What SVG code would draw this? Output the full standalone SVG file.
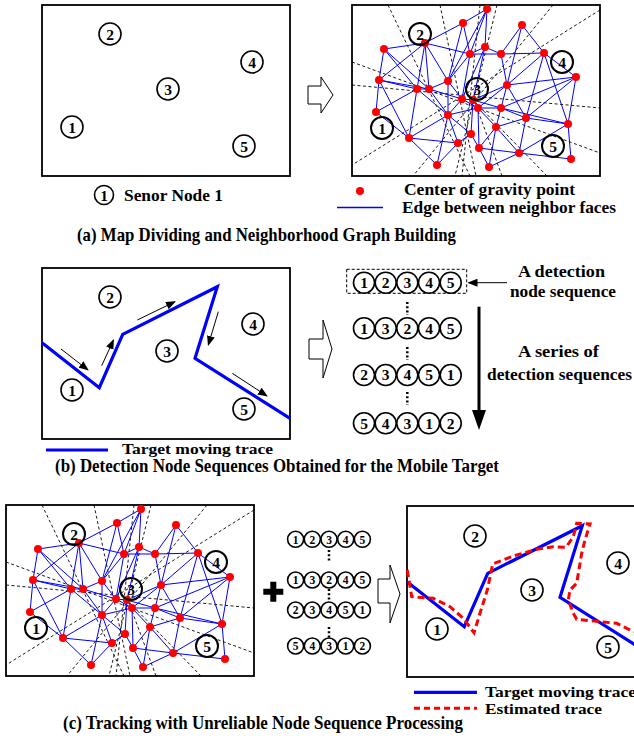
<svg xmlns="http://www.w3.org/2000/svg" xmlns:xlink="http://www.w3.org/1999/xlink" width="634" height="748" viewBox="0 0 634 748">
<style>
.box{fill:#fff;stroke:#000;stroke-width:1.8}
.t{font-family:"Liberation Serif","Times New Roman",serif;font-weight:bold;fill:#000}
.cap{font-size:19px}
.lg{font-size:17px}
.lgs{font-size:15px}
.num{font-size:15.5px;text-anchor:middle}
.nums{font-size:11.5px;text-anchor:middle}
.ring{fill:none;stroke:#000;stroke-width:1.6}
.ringg{fill:none;stroke:#000;stroke-width:2}
.dash{stroke:#000;stroke-width:0.9;stroke-dasharray:3,2.5;fill:none}
.edge{stroke:#0000ff;stroke-width:1;fill:none}
.dot{fill:#ff0000}
.trace{stroke:#0000ff;stroke-width:3.2;fill:none;stroke-linejoin:miter}
.est{stroke:#ff0000;stroke-width:3;fill:none;stroke-dasharray:7,4}
.hollow{fill:#fff;stroke:#000;stroke-width:1}
.arr{stroke:#000;stroke-width:1;fill:none}
.vd{stroke:#000;stroke-width:2.5;stroke-dasharray:2,2.2}
</style>
<defs>
<marker id="ah" markerWidth="10" markerHeight="8" refX="9" refY="4" orient="auto" markerUnits="userSpaceOnUse">
<path d="M0,0 L10,4 L0,8 Z" fill="#000"/>
</marker>
<marker id="ahBig" markerWidth="20" markerHeight="14" refX="2" refY="7" orient="auto" markerUnits="userSpaceOnUse">
<path d="M0,0 L20,7 L0,14 Z" fill="#000"/>
</marker>
<clipPath id="clipG"><rect x="352" y="5" width="248" height="171"/></clipPath>
<g id="graph">
<rect class="box" x="352" y="5" width="248" height="171"/>
<g clip-path="url(#clipG)">
<line class="dash" x1="388" y1="5" x2="470" y2="176"/>
<line class="dash" x1="440" y1="5" x2="476" y2="176"/>
<line class="dash" x1="480" y1="5" x2="462" y2="176"/>
<line class="dash" x1="497" y1="5" x2="455" y2="176"/>
<line class="dash" x1="553" y1="5" x2="413" y2="176"/>
<line class="dash" x1="600" y1="10" x2="352" y2="165"/>
<line class="dash" x1="352" y1="62" x2="600" y2="153"/>
<line class="dash" x1="352" y1="85" x2="600" y2="108"/>
<line class="dash" x1="547" y1="176" x2="470" y2="97"/>
<line class="dash" x1="502" y1="176" x2="474" y2="100"/>
</g>
<path class="edge" d="M487,9L463,23 M487,9L470,54 M487,9L485,47 M487,9L448,81
M463,23L425,43 M463,23L470,54 M463,23L448,81
M522,25L501,54 M522,25L544,53 M522,25L507,85
M425,43L384,49 M425,43L470,54 M425,43L379,80 M425,43L417,89 M425,43L429,89 M425,43L448,81
M384,49L379,80 M384,49L417,89 M384,49L429,89
M485,47L470,54 M485,47L501,54 M485,47L473,100 M485,47L462,99
M470,54L462,99 M470,54L448,81 M470,54L501,54
M501,54L507,85 M501,54L544,53
M544,53L576,77 M544,53L507,85 M544,53L568,124 M544,53L526,118
M576,77L507,85 M576,77L568,124 M576,77L501,108 M576,77L526,118
M379,80L417,89 M379,80L376,112 M379,80L409,138 M379,80L429,89
M417,89L429,89 M417,89L376,112 M417,89L409,138 M417,89L448,115
M429,89L448,115 M429,89L462,99 M429,89L448,81
M448,81L462,99 M448,81L448,115
M507,85L501,108 M507,85L473,100 M507,85L526,118 M507,85L478,108
M462,99L473,100 M462,99L448,115 M462,99L478,108
M473,100L478,108 M473,100L501,108 M473,100L471,134
M478,108L501,108 M478,108L479,148 M478,108L496,127 M478,108L448,115
M501,108L526,118 M501,108L496,127 M501,108L568,124
M376,112L409,138
M448,115L409,138 M448,115L458,143 M448,115L437,165 M448,115L471,134
M526,118L568,124 M526,118L519,153 M526,118L496,127
M568,124L519,153 M568,124L571,159
M496,127L489,167 M496,127L519,153 M496,127L479,148
M409,138L458,143 M409,138L437,165
M471,134L458,143 M471,134L479,148
M458,143L437,165
M479,148L489,167 M479,148L519,153
M519,153L571,159 M519,153L489,167"/>
<g class="dot">
<circle cx="487" cy="9" r="4"/><circle cx="463" cy="23" r="4"/><circle cx="522" cy="25" r="4"/>
<circle cx="425" cy="43" r="4"/><circle cx="384" cy="49" r="4"/><circle cx="485" cy="47" r="4"/>
<circle cx="470" cy="54" r="4"/><circle cx="501" cy="54" r="4"/><circle cx="544" cy="53" r="4"/>
<circle cx="576" cy="77" r="4"/><circle cx="379" cy="80" r="4"/><circle cx="417" cy="89" r="4"/>
<circle cx="429" cy="89" r="4"/><circle cx="448" cy="81" r="4"/><circle cx="507" cy="85" r="4"/>
<circle cx="462" cy="99" r="4"/><circle cx="473" cy="100" r="4"/><circle cx="478" cy="108" r="4"/>
<circle cx="501" cy="108" r="4"/><circle cx="376" cy="112" r="4"/><circle cx="448" cy="115" r="4"/>
<circle cx="526" cy="118" r="4"/><circle cx="568" cy="124" r="4"/><circle cx="496" cy="127" r="4"/>
<circle cx="409" cy="138" r="4"/><circle cx="471" cy="134" r="4"/><circle cx="458" cy="143" r="4"/>
<circle cx="479" cy="148" r="4"/><circle cx="519" cy="153" r="4"/><circle cx="571" cy="159" r="4"/>
<circle cx="437" cy="165" r="4"/><circle cx="489" cy="167" r="4"/>
</g>
<g>
<circle class="ringg" cx="420" cy="34" r="11"/><text class="t num" x="420" y="39.5">2</text>
<circle class="ringg" cx="562" cy="62" r="11"/><text class="t num" x="562" y="67.5">4</text>
<circle class="ringg" cx="477" cy="89" r="11"/><text class="t num" x="477" y="94.5">3</text>
<circle class="ringg" cx="382" cy="128" r="11"/><text class="t num" x="382" y="133.5">1</text>
<circle class="ringg" cx="553" cy="146" r="11"/><text class="t num" x="553" y="151.5">5</text>
</g>
</g>
</defs>

<!-- Panel (a) left: sensor field -->
<g id="panelA_left">
<rect class="box" x="42" y="5" width="248" height="171"/>
<g id="a_n2"><circle class="ring" cx="110" cy="34" r="11"/><text class="t num" x="110" y="39.5">2</text></g>
<g id="a_n4"><circle class="ring" cx="252" cy="62" r="11"/><text class="t num" x="252" y="67.5">4</text></g>
<g id="a_n3"><circle class="ring" cx="168" cy="89" r="11"/><text class="t num" x="168" y="94.5">3</text></g>
<g id="a_n1"><circle class="ring" cx="72" cy="127" r="11"/><text class="t num" x="72" y="132.5">1</text></g>
<g id="a_n5"><circle class="ring" cx="244" cy="146" r="11"/><text class="t num" x="244" y="151.5">5</text></g>
</g>
<g id="legendA_left">
<circle class="ring" cx="104" cy="195" r="9.5"/><text class="t num" x="104" y="200.5">1</text>
<text class="t lg" x="124" y="201" textLength="99" lengthAdjust="spacingAndGlyphs">Senor Node 1</text>
</g>
<g id="arrowA"><path class="hollow" d="M308,86 L321,86 L321,77 L333,95 L321,113 L321,104 L308,104 Z"/></g>

<!-- Panel (a) right: graph -->
<g id="panelA_right"><use xlink:href="#graph"/></g>
<g id="legendA_right">
<circle class="dot" cx="360" cy="191" r="4"/>
<text class="t lg" x="404" y="195" textLength="171" lengthAdjust="spacingAndGlyphs">Center of gravity point</text>
<line x1="337" y1="207.5" x2="383" y2="207.5" stroke="#0000ff" stroke-width="1.5"/>
<text class="t lg" x="402" y="213" textLength="214" lengthAdjust="spacingAndGlyphs">Edge between neighbor faces</text>
</g>
<g id="captionA"><text class="t cap" x="77" y="241" textLength="379" lengthAdjust="spacingAndGlyphs">(a) Map Dividing and Neighborhood Graph Building</text></g>

<!-- Panel (b) left -->
<g id="panelB_left">
<rect class="box" x="42" y="268" width="248" height="171"/>
<g id="b_n2"><circle class="ring" cx="110" cy="297" r="11"/><text class="t num" x="110" y="302.5">2</text></g>
<g id="b_n4"><circle class="ring" cx="253" cy="324" r="11"/><text class="t num" x="253" y="329.5">4</text></g>
<g id="b_n3"><circle class="ring" cx="167" cy="351" r="11"/><text class="t num" x="167" y="356.5">3</text></g>
<g id="b_n1"><circle class="ring" cx="72" cy="390" r="11"/><text class="t num" x="72" y="395.5">1</text></g>
<g id="b_n5"><circle class="ring" cx="244" cy="409" r="11"/><text class="t num" x="244" y="414.5">5</text></g>
<polyline class="trace" points="42,342.7 99.3,387.7 122.7,334.3 217.3,286.7 195,358.3 290,418.3"/>
</g>
<g id="b_dirs">
<line class="arr" x1="61" y1="349" x2="88" y2="370" marker-end="url(#ah)"/>
<line class="arr" x1="101.7" y1="365.7" x2="113.5" y2="340" marker-end="url(#ah)"/>
<line class="arr" x1="137.3" y1="320" x2="175" y2="301.7" marker-end="url(#ah)"/>
<line class="arr" x1="218.3" y1="311.7" x2="208.3" y2="345" marker-end="url(#ah)"/>
<line class="arr" x1="232.3" y1="373.3" x2="267" y2="396" marker-end="url(#ah)"/>
</g>
<g id="legendB">
<line x1="46" y1="450" x2="108" y2="450" stroke="#0000ff" stroke-width="3.2"/>
<text class="t" style="font-size:14.5px" x="122" y="453.5" textLength="151" lengthAdjust="spacingAndGlyphs">Target moving trace</text>
</g>
<g id="arrowB"><path class="hollow" d="M309,339 L323,339 L323,320 L332,349 L323,378 L323,359 L309,359 Z"/></g>

<!-- Panel (b) right: sequences -->
<g id="seqB">
<rect x="346.7" y="269.3" width="120" height="24" fill="none" stroke="#000" stroke-width="1" stroke-dasharray="3,2"/>
<g id="seqB1">
<circle class="ring" cx="364" cy="282.7" r="10.5"/><text class="t num" x="364" y="288">1</text>
<circle class="ring" cx="385.7" cy="282.7" r="10.5"/><text class="t num" x="385.7" y="288">2</text>
<circle class="ring" cx="407.3" cy="282.7" r="10.5"/><text class="t num" x="407.3" y="288">3</text>
<circle class="ring" cx="429" cy="282.7" r="10.5"/><text class="t num" x="429" y="288">4</text>
<circle class="ring" cx="450.7" cy="282.7" r="10.5"/><text class="t num" x="450.7" y="288">5</text>
</g>
<g id="seqB2">
<circle class="ring" cx="364" cy="328.3" r="10.5"/><text class="t num" x="364" y="333.6">1</text>
<circle class="ring" cx="385.7" cy="328.3" r="10.5"/><text class="t num" x="385.7" y="333.6">3</text>
<circle class="ring" cx="407.3" cy="328.3" r="10.5"/><text class="t num" x="407.3" y="333.6">2</text>
<circle class="ring" cx="429" cy="328.3" r="10.5"/><text class="t num" x="429" y="333.6">4</text>
<circle class="ring" cx="450.7" cy="328.3" r="10.5"/><text class="t num" x="450.7" y="333.6">5</text>
</g>
<g id="seqB3">
<circle class="ring" cx="364" cy="375" r="10.5"/><text class="t num" x="364" y="380.3">2</text>
<circle class="ring" cx="385.7" cy="375" r="10.5"/><text class="t num" x="385.7" y="380.3">3</text>
<circle class="ring" cx="407.3" cy="375" r="10.5"/><text class="t num" x="407.3" y="380.3">4</text>
<circle class="ring" cx="429" cy="375" r="10.5"/><text class="t num" x="429" y="380.3">5</text>
<circle class="ring" cx="450.7" cy="375" r="10.5"/><text class="t num" x="450.7" y="380.3">1</text>
</g>
<g id="seqB4">
<circle class="ring" cx="364" cy="423.3" r="10.5"/><text class="t num" x="364" y="428.6">5</text>
<circle class="ring" cx="385.7" cy="423.3" r="10.5"/><text class="t num" x="385.7" y="428.6">4</text>
<circle class="ring" cx="407.3" cy="423.3" r="10.5"/><text class="t num" x="407.3" y="428.6">3</text>
<circle class="ring" cx="429" cy="423.3" r="10.5"/><text class="t num" x="429" y="428.6">1</text>
<circle class="ring" cx="450.7" cy="423.3" r="10.5"/><text class="t num" x="450.7" y="428.6">2</text>
</g>
<line class="vd" x1="407.3" y1="302" x2="407.3" y2="315"/>
<line class="vd" x1="407.3" y1="347" x2="407.3" y2="360"/>
<line class="vd" x1="407.3" y1="392" x2="407.3" y2="405"/>
</g>
<g id="labelsB">
<text class="t lg" x="518" y="277" textLength="87" lengthAdjust="spacingAndGlyphs">A detection</text>
<text class="t lg" x="510" y="297" textLength="106" lengthAdjust="spacingAndGlyphs">node sequence</text>
<line class="arr" x1="507" y1="282.7" x2="468.5" y2="282.7" marker-end="url(#ah)"/>
<line x1="479" y1="306.7" x2="479" y2="412" stroke="#000" stroke-width="3" marker-end="url(#ahBig)"/>
<text class="t lg" x="518" y="357" textLength="81" lengthAdjust="spacingAndGlyphs">A series of</text>
<text class="t lg" x="487" y="380" textLength="145" lengthAdjust="spacingAndGlyphs">detection sequences</text>
</g>
<g id="captionB"><text class="t" style="font-size:18.5px" x="55" y="472" textLength="444" lengthAdjust="spacingAndGlyphs">(b) Detection Node Sequences Obtained for the Mobile Target</text></g>

<!-- Panel (c) left: graph -->
<g id="panelC_left"><use xlink:href="#graph" transform="translate(-346,500)"/></g>
<g id="plusC"><path d="M273.3,581.7 V601.7 M263.3,591.7 H283.3" stroke="#000" stroke-width="6"/></g>
<g id="seqC">
<g id="seqC1">
<circle class="ring" cx="295.6" cy="539.3" r="8" stroke-width="1.3"/><text class="t nums" x="295.6" y="543.5">1</text>
<circle class="ring" cx="312.3" cy="539.3" r="8" stroke-width="1.3"/><text class="t nums" x="312.3" y="543.5">2</text>
<circle class="ring" cx="329" cy="539.3" r="8" stroke-width="1.3"/><text class="t nums" x="329" y="543.5">3</text>
<circle class="ring" cx="345.7" cy="539.3" r="8" stroke-width="1.3"/><text class="t nums" x="345.7" y="543.5">4</text>
<circle class="ring" cx="362.4" cy="539.3" r="8" stroke-width="1.3"/><text class="t nums" x="362.4" y="543.5">5</text>
</g>
<g id="seqC2">
<circle class="ring" cx="295.6" cy="580" r="8" stroke-width="1.3"/><text class="t nums" x="295.6" y="584.2">1</text>
<circle class="ring" cx="312.3" cy="580" r="8" stroke-width="1.3"/><text class="t nums" x="312.3" y="584.2">3</text>
<circle class="ring" cx="329" cy="580" r="8" stroke-width="1.3"/><text class="t nums" x="329" y="584.2">2</text>
<circle class="ring" cx="345.7" cy="580" r="8" stroke-width="1.3"/><text class="t nums" x="345.7" y="584.2">4</text>
<circle class="ring" cx="362.4" cy="580" r="8" stroke-width="1.3"/><text class="t nums" x="362.4" y="584.2">5</text>
</g>
<g id="seqC3">
<circle class="ring" cx="295.6" cy="610" r="8" stroke-width="1.3"/><text class="t nums" x="295.6" y="614.2">2</text>
<circle class="ring" cx="312.3" cy="610" r="8" stroke-width="1.3"/><text class="t nums" x="312.3" y="614.2">3</text>
<circle class="ring" cx="329" cy="610" r="8" stroke-width="1.3"/><text class="t nums" x="329" y="614.2">4</text>
<circle class="ring" cx="345.7" cy="610" r="8" stroke-width="1.3"/><text class="t nums" x="345.7" y="614.2">5</text>
<circle class="ring" cx="362.4" cy="610" r="8" stroke-width="1.3"/><text class="t nums" x="362.4" y="614.2">1</text>
</g>
<g id="seqC4">
<circle class="ring" cx="295.6" cy="646" r="8" stroke-width="1.3"/><text class="t nums" x="295.6" y="650.2">5</text>
<circle class="ring" cx="312.3" cy="646" r="8" stroke-width="1.3"/><text class="t nums" x="312.3" y="650.2">4</text>
<circle class="ring" cx="329" cy="646" r="8" stroke-width="1.3"/><text class="t nums" x="329" y="650.2">3</text>
<circle class="ring" cx="345.7" cy="646" r="8" stroke-width="1.3"/><text class="t nums" x="345.7" y="650.2">1</text>
<circle class="ring" cx="362.4" cy="646" r="8" stroke-width="1.3"/><text class="t nums" x="362.4" y="650.2">2</text>
</g>
<line class="vd" x1="329" y1="550" x2="329" y2="561" stroke-width="2"/>
<line class="vd" x1="329" y1="589" x2="329" y2="600" stroke-width="2"/>
<line class="vd" x1="329" y1="627" x2="329" y2="638" stroke-width="2"/>
</g>
<g id="arrowC"><path class="hollow" d="M378,579 L390,579 L390,565 L400,594 L390,623 L390,603 L378,603 Z"/></g>

<!-- Panel (c) right: tracking -->
<g id="panelC_right">
<rect class="box" x="407" y="506" width="248" height="171"/>
<g id="c_n2"><circle class="ring" cx="475" cy="536" r="11"/><text class="t num" x="475" y="541.5">2</text></g>
<g id="c_n4"><circle class="ring" cx="618" cy="563" r="11"/><text class="t num" x="618" y="568.5">4</text></g>
<g id="c_n3"><circle class="ring" cx="532" cy="590" r="11"/><text class="t num" x="532" y="595.5">3</text></g>
<g id="c_n1"><circle class="ring" cx="437" cy="629" r="11"/><text class="t num" x="437" y="634.5">1</text></g>
<g id="c_n5"><circle class="ring" cx="608" cy="647" r="11"/><text class="t num" x="608" y="652.5">5</text></g>
<polyline class="trace" points="407,581.7 464.3,626.7 487.7,573.3 582.3,525.7 560,597.3 655,657.3"/>
<polyline class="est" points="407.3,570 411.7,596.7 433.3,598.3 450,606.7 463.3,618.3 468.3,625 474,632.7 480,613.3 487.3,590 492.7,564 513.3,556 536.7,549.3 553.3,546.7 566,547.3 573.3,536.7 576.7,523.3 590,524 585,540 581.7,553.3 576.7,583.3 570,590 568.3,600 573.3,613.3 576.7,619.3 600,621.7 616.7,623.3 634,632"/>
</g>
<g id="legendC">
<line x1="414" y1="692.3" x2="477" y2="692.3" stroke="#0000ff" stroke-width="3.2"/>
<text class="t lgs" x="485" y="696.5" textLength="151" lengthAdjust="spacingAndGlyphs">Target moving trace</text>
<line x1="414" y1="708.3" x2="477" y2="708.3" stroke="#ff0000" stroke-width="3" stroke-dasharray="6,4"/>
<text class="t lgs" x="485" y="713.5" textLength="117" lengthAdjust="spacingAndGlyphs">Estimated trace</text>
</g>
<g id="captionC"><text class="t cap" x="63" y="729" textLength="400" lengthAdjust="spacingAndGlyphs">(c) Tracking with Unreliable Node Sequence Processing</text></g>
</svg>
